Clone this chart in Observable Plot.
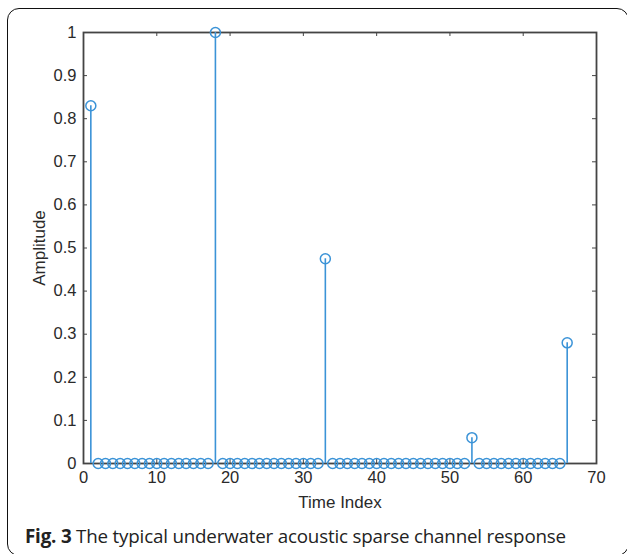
<!DOCTYPE html>
<html>
<head>
<meta charset="utf-8">
<script src="https://cdn.jsdelivr.net/npm/d3@7"></script>
<script src="https://cdn.jsdelivr.net/npm/@observablehq/plot@0.6"></script>
<style>
  html, body { margin: 0; padding: 0; background: #fff; }
  body { width: 627px; height: 554px; overflow: hidden; position: relative; }
  #box {
    position: absolute; left: 7px; top: 8px; width: 622px; height: 548px;
    border: 1.6px solid #111; border-radius: 12px; box-sizing: border-box;
  }
  #chart { position: absolute; left: 0; top: 0; }
  #caption {
    position: absolute; left: 25px; top: 525px;
    font-family: "Open Sans", "Noto Sans", sans-serif; font-size: 18.8px;
    color: #222; white-space: nowrap; letter-spacing: -0.2px; line-height: 1.2;
  }
  #caption b { font-weight: 700; }
</style>
</head>
<body>
<div id="box"></div>
<div id="chart"></div>
<div id="caption"><b>Fig. 3</b> The typical underwater acoustic sparse channel response</div>
<script>
// Time indices 1..66
const timeIndex = d3.range(1, 67);
// Amplitudes
const amplitude = [
  0.83, 0, 0, 0, 0, 0, 0, 0, 0, 0,
  0, 0, 0, 0, 0, 0, 0, 1.0, 0, 0,
  0, 0, 0, 0, 0, 0, 0, 0, 0, 0,
  0, 0, 0.475, 0, 0, 0, 0, 0, 0, 0,
  0, 0, 0, 0, 0, 0, 0, 0, 0, 0,
  0, 0, 0.06, 0, 0, 0, 0, 0, 0, 0,
  0, 0, 0, 0, 0, 0.28
];
const xTicks = [0, 10, 20, 30, 40, 50, 60, 70];
const yTicks = [0, 0.1, 0.2, 0.3, 0.4, 0.5, 0.6, 0.7, 0.8, 0.9, 1];
const yTickLabels = ["0", "0.1", "0.2", "0.3", "0.4", "0.5", "0.6", "0.7", "0.8", "0.9", "1"];

const data = timeIndex.map((t, i) => ({t, a: amplitude[i]}));

const W = 627, H = 510;
const mL = 83, mR = 31, mT = 32, mB = 47;
const fw = W - mL - mR, fh = H - mT - mB;
const axisColor = "#444";
const stemColor = "#3b93d7";

const plot = Plot.plot({
  width: W, height: H,
  marginLeft: mL, marginRight: mR, marginTop: mT, marginBottom: mB,
  style: {fontFamily: "'Liberation Sans', Arial, sans-serif", fontSize: "16.5px", color: "#2a2a2a", background: "transparent"},
  x: {domain: [0, 70]},
  y: {domain: [0, 1]},
  marks: [
    Plot.axisX(xTicks, {tickSize: 0, tickPadding: 8, fontSize: 16.5, fill: "#2a2a2a",
      label: null}),
    Plot.axisY(yTicks, {tickSize: 0, tickPadding: 7, fontSize: 16.5, fill: "#2a2a2a",
      tickFormat: (d, i) => yTickLabels[i], label: null}),
    Plot.axisX({anchor: "bottom", ticks: [], label: "Time Index", labelAnchor: "center",
      labelOffset: 44, labelArrow: "none", fontSize: 17, fill: "#2a2a2a"}),
    Plot.axisY({anchor: "left", ticks: [], label: "Amplitude", labelAnchor: "center",
      labelOffset: 51, labelArrow: "none", fontSize: 17, fill: "#2a2a2a"}),
    // inward ticks
    Plot.tickX(xTicks, {x: d => d, insetTop: fh - 4, stroke: axisColor}),
    Plot.tickX(xTicks, {x: d => d, insetBottom: fh - 4, stroke: axisColor}),
    Plot.tickY(yTicks, {y: d => d, insetRight: fw - 4, stroke: axisColor}),
    Plot.tickY(yTicks, {y: d => d, insetLeft: fw - 4, stroke: axisColor}),
    Plot.frame({stroke: axisColor, strokeWidth: 1.8}),
    Plot.ruleX(data, {x: "t", y1: 0, y2: "a", stroke: stemColor, strokeWidth: 1.6}),
    Plot.dot(data, {x: "t", y: "a", r: 5, stroke: stemColor, strokeWidth: 1.5, fill: "none"})
  ]
});
document.getElementById("chart").appendChild(plot);
</script>
</body>
</html>
